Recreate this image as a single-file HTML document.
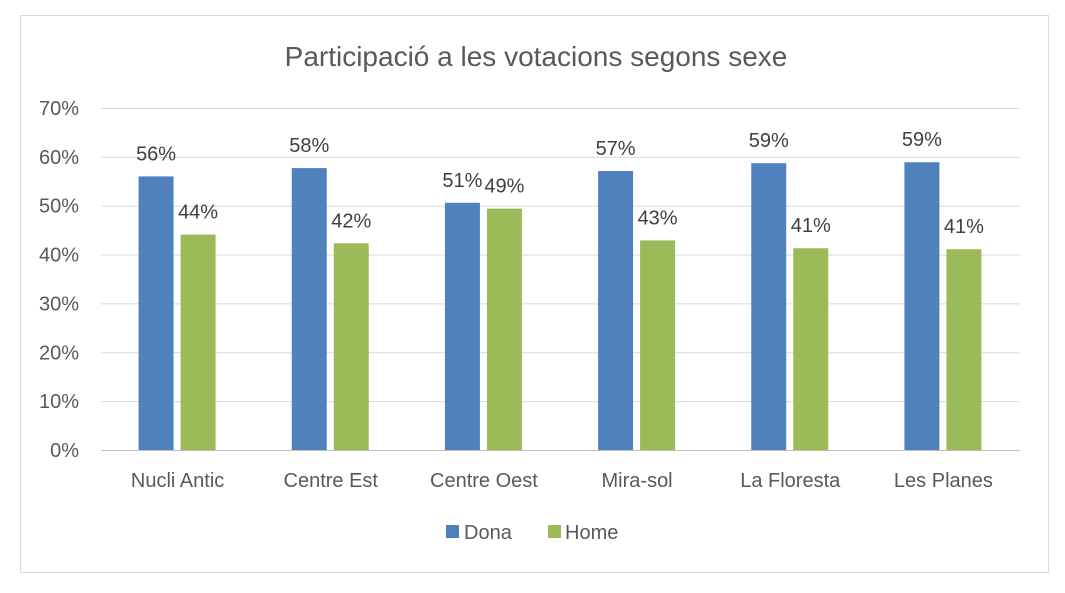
<!DOCTYPE html>
<html><head><meta charset="utf-8"><style>
body{margin:0;background:#fff;}
svg{display:block;font-family:"Liberation Sans",sans-serif;}
</style></head><body>
<svg id="c" width="1065" height="593">
<rect x="20.5" y="15.5" width="1028" height="557" fill="#fff" stroke="#d9d9d9"/>
<text x="536" y="66" text-anchor="middle" font-size="28" fill="#595959">Participació a les votacions segons sexe</text>
<g id="grid"></g><g id="bars"></g><g id="labels"></g>
<g>
<rect x="446" y="525" width="13" height="13" fill="#4f81bd"/>
<text x="464" y="539" font-size="20" fill="#595959">Dona</text>
<rect x="548" y="525" width="13" height="13" fill="#9bbb59"/>
<text x="565" y="539" font-size="20" fill="#595959">Home</text>
</g>
</svg>
<script>
const categories=["Nucli Antic","Centre Est","Centre Oest","Mira-sol","La Floresta","Les Planes"];
const dona=[56.0,57.7,50.6,57.1,58.7,58.9];
const home=[44.1,42.3,49.4,42.9,41.3,41.1];
const ticks=[0,10,20,30,40,50,60,70];
const NS="http://www.w3.org/2000/svg";
const x0=101,x1=1020,y0=450,yTop=108,ymax=70;
const y=v=>y0-(v/ymax)*(y0-yTop);
const bw=(x1-x0)/categories.length;
function mk(tag,attrs,parent,text){const e=document.createElementNS(NS,tag);for(const k in attrs)e.setAttribute(k,attrs[k]);if(text!==undefined)e.textContent=text;document.getElementById(parent).appendChild(e);return e;}
ticks.forEach(t=>{
 const l=mk("line",{x1:x0,x2:x1,y1:y(t)+0.5,y2:y(t)+0.5,stroke:t===0?"#bfbfbf":"#d9d9d9"},"grid");
 
 
 const tx=mk("text",{x:79,y:y(t)+7,"text-anchor":"end","font-size":"20",fill:"#595959"},"grid",t+"%");
 
 
});
categories.forEach((c,i)=>{
 const cx=x0+bw*(i+0.5);
 const series=[[dona[i],"#4f81bd",cx-39,"dona"],[home[i],"#9bbb59",cx+3,"home"]];
 series.forEach(([v,col,bx,nm])=>{
  const r=mk("rect",{x:bx,y:y(v),width:35,height:y0-y(v),fill:col},"bars");
  
  
  const t=mk("text",{x:bx+17.5,y:y(v)-16,"text-anchor":"middle","font-size":"20",fill:"#404040"},"labels",Math.round(v)+"%");
  
  
 });
 const ct=mk("text",{x:cx,y:487,"text-anchor":"middle","font-size":"20",fill:"#595959"},"labels",c);
 
 
});
</script>
</body></html>
